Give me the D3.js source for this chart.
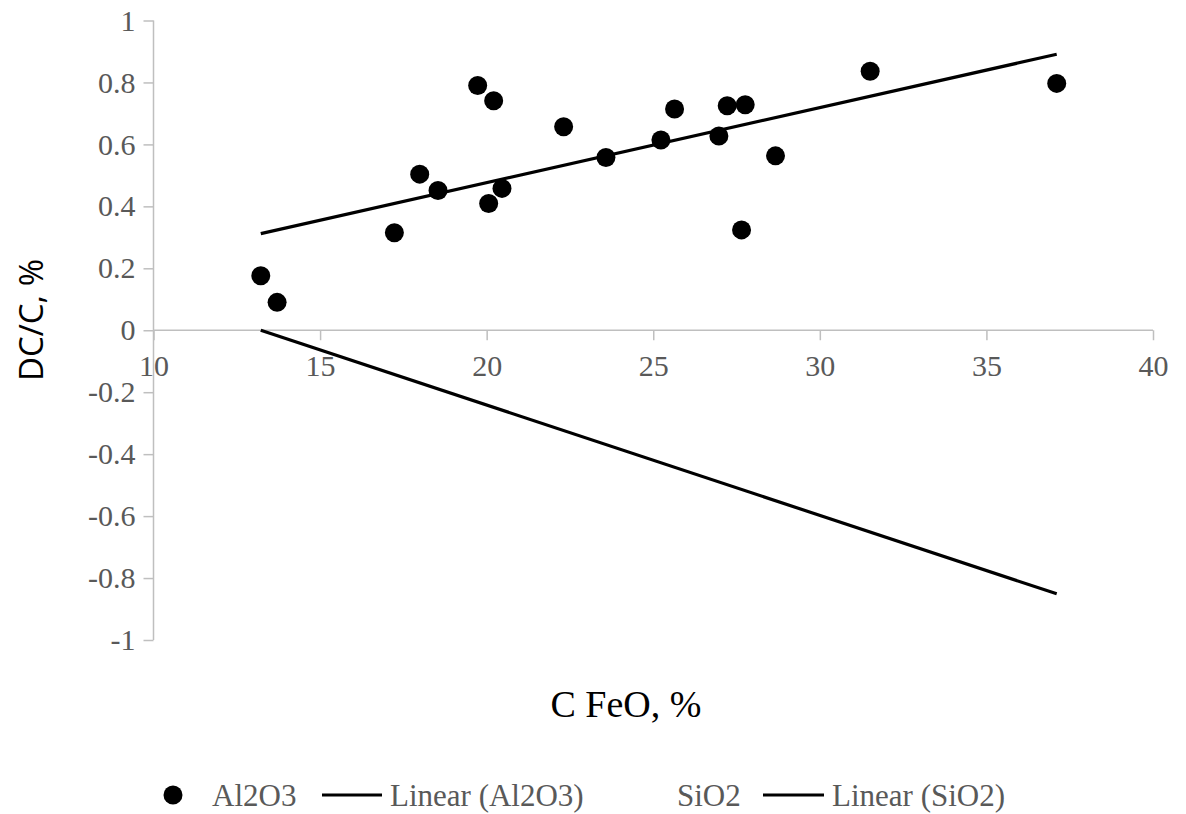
<!DOCTYPE html>
<html>
<head>
<meta charset="utf-8">
<script src="https://cdn.jsdelivr.net/npm/d3@7"></script>
<style>
html, body { margin: 0; padding: 0; background: #fff; }
svg { display: block; }
</style>
</head>
<body>
<svg id="chart" width="1186" height="814"></svg>
<script>
// ---- data ----
const al2o3X = [13.22, 13.71, 17.23, 17.99, 18.54, 19.73, 20.06, 20.21, 20.46, 22.31,
                23.58, 25.23, 25.64, 26.97, 27.22, 27.65, 27.76, 28.67, 31.51, 37.11];
const al2o3Y = [0.176, 0.090, 0.315, 0.504, 0.451, 0.790, 0.409, 0.741, 0.458, 0.657,
                0.558, 0.614, 0.714, 0.627, 0.725, 0.324, 0.728, 0.563, 0.836, 0.797];
const trendAlX = [13.22, 37.11];
const trendAlY = [0.312, 0.891];
const trendSiX = [13.22, 37.11];
const trendSiY = [0.0, -0.851];
const xTicks = [10, 15, 20, 25, 30, 35, 40];
const yTicks = [-1, -0.8, -0.6, -0.4, -0.2, 0, 0.2, 0.4, 0.6, 0.8, 1];
const legendLabels = ["Al2O3", "Linear (Al2O3)", "SiO2", "Linear (SiO2)"];
const xTitle = "C FeO, %";
const yTitle = "DC/C, %";

// ---- drawing ----
const svg = d3.select("#chart");
const x = d3.scaleLinear().domain([10, 40]).range([153.5, 1153]);
const y = d3.scaleLinear().domain([-1, 1]).range([640, 20.5]);

const axisColor = "#bfbfbf";
const tickColor = "#595959";
const serif = "'Liberation Serif', 'Times New Roman', serif";

// y axis at x = 10
const yAxis = svg.append("g").attr("transform", `translate(${x(10)},0)`)
  .call(d3.axisLeft(y).tickValues(yTicks).tickSize(10).tickPadding(8)
        .tickFormat(d => String(+d.toFixed(1))));
// x axis at y = 0
const xAxis = svg.append("g").attr("transform", `translate(0,${y(0)})`)
  .call(d3.axisBottom(x).tickValues(xTicks).tickSize(10).tickPadding(14)
        .tickFormat(d3.format("d")));

[yAxis, xAxis].forEach(g => {
  g.select(".domain").attr("stroke", axisColor).attr("stroke-width", 1.5);
  g.selectAll(".tick line").attr("stroke", axisColor).attr("stroke-width", 1.5);
  g.selectAll(".tick text").attr("fill", tickColor)
    .style("font-family", serif).style("font-size", "30px");
});
yAxis.selectAll(".tick text").text(d => (Math.abs(d) < 1e-9 ? "0" : String(+d.toFixed(1))));
yAxis.select(".domain").attr("d", `M-0,${y(-1)}H0V${y(1)}H-0`);
xAxis.select(".domain").attr("d", `M${x(10)},0H${x(40)}`);

// trend lines
const line = d3.line().x(d => x(d[0])).y(d => y(d[1]));
svg.append("path").datum(trendAlX.map((v, i) => [v, trendAlY[i]]))
  .attr("d", line).attr("fill", "none").attr("stroke", "#000").attr("stroke-width", 3.2);
svg.append("path").datum(trendSiX.map((v, i) => [v, trendSiY[i]]))
  .attr("d", line).attr("fill", "none").attr("stroke", "#000").attr("stroke-width", 3.2);

// points
svg.append("g").selectAll("circle").data(al2o3X.map((v, i) => [v, al2o3Y[i]]))
  .join("circle").attr("cx", d => x(d[0])).attr("cy", d => y(d[1])).attr("r", 9.5)
  .attr("fill", "#000");

// axis titles
svg.append("text").attr("x", 626).attr("y", 717).attr("text-anchor", "middle")
  .style("font-family", serif).style("font-size", "38px").attr("fill", "#000").text(xTitle);
svg.append("text").attr("transform", "translate(43,320) rotate(-90)").attr("text-anchor", "middle")
  .style("font-family", "'Open Sans', sans-serif").style("font-size", "33px").attr("fill", "#000").text(yTitle);

// legend
const lg = svg.append("g");
const ly = 795;
lg.append("circle").attr("cx", 173).attr("cy", ly).attr("r", 9.5).attr("fill", "#000");
lg.append("text").attr("x", 212).attr("y", ly).attr("dy", "0.35em").text(legendLabels[0]);
lg.append("line").attr("x1", 322).attr("x2", 382).attr("y1", ly).attr("y2", ly)
  .attr("stroke", "#000").attr("stroke-width", 3.2);
lg.append("text").attr("x", 390).attr("y", ly).attr("dy", "0.35em").text(legendLabels[1]);
lg.append("text").attr("x", 677).attr("y", ly).attr("dy", "0.35em").text(legendLabels[2]);
lg.append("line").attr("x1", 763).attr("x2", 824).attr("y1", ly).attr("y2", ly)
  .attr("stroke", "#000").attr("stroke-width", 3.2);
lg.append("text").attr("x", 832).attr("y", ly).attr("dy", "0.35em").text(legendLabels[3]);
lg.selectAll("text").style("font-family", serif).style("font-size", "31px").attr("fill", tickColor);
</script>
</body>
</html>
